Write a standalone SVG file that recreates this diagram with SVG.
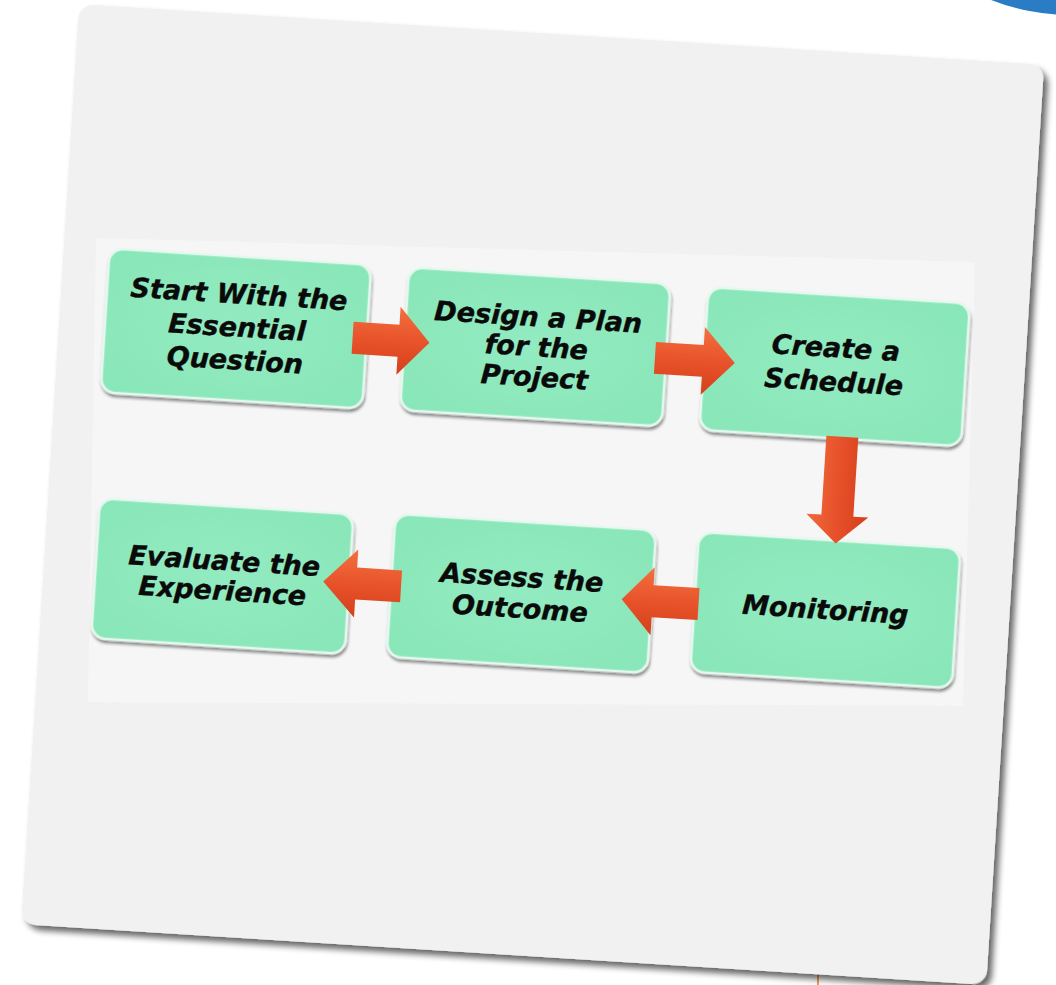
<svg xmlns="http://www.w3.org/2000/svg" width="1056" height="985" viewBox="0 0 1056 985">
  <defs>
    <filter id="cardShadow" x="-5%" y="-5%" width="112%" height="112%">
      <feGaussianBlur in="SourceAlpha" stdDeviation="3"/>
      <feOffset dx="5" dy="5" result="b"/>
      <feComponentTransfer><feFuncA type="linear" slope="0.6"/></feComponentTransfer>
      <feMerge><feMergeNode/><feMergeNode in="SourceGraphic"/></feMerge>
    </filter>
    <filter id="boxShadow" x="-5%" y="-5%" width="110%" height="115%">
      <feGaussianBlur in="SourceAlpha" stdDeviation="1.5"/>
      <feOffset dx="1" dy="3" result="b"/>
      <feComponentTransfer><feFuncA type="linear" slope="0.45"/></feComponentTransfer>
      <feMerge><feMergeNode/><feMergeNode in="SourceGraphic"/></feMerge>
    </filter>
    <linearGradient id="arrH" x1="0" y1="0" x2="0" y2="1">
      <stop offset="0" stop-color="#f4703f"/>
      <stop offset="0.5" stop-color="#e8532b"/>
      <stop offset="1" stop-color="#d4401b"/>
    </linearGradient>
    <linearGradient id="arrV" x1="0" y1="0" x2="1" y2="0">
      <stop offset="0" stop-color="#f06a3a"/>
      <stop offset="0.5" stop-color="#e6502a"/>
      <stop offset="1" stop-color="#d4401b"/>
    </linearGradient>
    <radialGradient id="boxFill" cx="0.5" cy="0.5" r="0.7">
      <stop offset="0" stop-color="#93ebc1"/>
      <stop offset="1" stop-color="#88e6b8"/>
    </radialGradient>
  </defs>
  <style>
    .box { fill: url(#boxFill); stroke: #e4f8ee; stroke-width: 2.5; filter: url(#boxShadow); }
    .lbl { font-family: "DejaVu Sans", Verdana, sans-serif; font-weight: bold; font-style: italic; font-size: 27px; fill: #0a0a0a; stroke: #0a0a0a; stroke-width: 0.4; text-anchor: middle; }
    .arrH { fill: url(#arrH); }
    .arrV { fill: url(#arrV); }
  </style>

  <!-- blue badge fragment top right -->
  <circle cx="1070" cy="-200" r="215" fill="#2a7cc5"/>

  <!-- small orange mark bottom -->
  <line x1="818" y1="974" x2="818" y2="985" stroke="#f07b20" stroke-width="1.5"/>

  <g id="card">
    <rect x="0" y="0" width="967" height="922" rx="15" fill="#f1f1f1" filter="url(#cardShadow)" transform="translate(79,4) rotate(3.6)"/>
    <polygon points="96,238 975,262 963,706 88,702" fill="#f6f6f6"/>
  </g>

  <g transform="translate(79,4) rotate(3.6)">
    <g id="node-start">
      <rect class="box" x="46" y="242" width="262" height="144" rx="14"/>
      <text class="lbl" x="178" y="289">Start With the</text>
      <text class="lbl" x="178" y="322">Essential</text>
      <text class="lbl" x="178" y="355">Question</text>
    </g>
    <g id="node-design">
      <rect class="box" x="346" y="242" width="262" height="143" rx="14"/>
      <text class="lbl" x="478" y="293">Design a Plan</text>
      <text class="lbl" x="478" y="323">for the</text>
      <text class="lbl" x="478" y="353">Project</text>
    </g>
    <g id="node-schedule">
      <rect class="box" x="646" y="243" width="262" height="143" rx="14"/>
      <text class="lbl" x="777" y="305">Create a</text>
      <text class="lbl" x="777" y="339">Schedule</text>
    </g>
    <g id="node-monitoring">
      <rect class="box" x="652" y="488" width="262" height="140" rx="14"/>
      <text class="lbl" x="783" y="567">Monitoring</text>
    </g>
    <g id="node-assess">
      <rect class="box" x="348" y="489" width="261" height="143" rx="14"/>
      <text class="lbl" x="478" y="554">Assess the</text>
      <text class="lbl" x="478" y="585">Outcome</text>
    </g>
    <g id="node-evaluate">
      <rect class="box" x="52" y="492" width="254" height="140" rx="14"/>
      <text class="lbl" x="180" y="556">Evaluate the</text>
      <text class="lbl" x="180" y="586">Experience</text>
    </g>

    <g id="connectors">
      <!-- start -> design -->
      <path class="arrH" d="M294,300 H340 V282 L371,316 L340,350 V332 H294 Z"/>
      <!-- design -> schedule -->
      <path class="arrH" d="M597,301 H645 V283 L677,317 L645,351 V333 H597 Z"/>
      <!-- schedule -> monitoring -->
      <path class="arrV" d="M773,384 H805 V463 H820 L789,491 L758,463 H773 Z"/>
      <!-- monitoring -> assess -->
      <path class="arrH" d="M656,544 H610 V526 L579,560 L610,594 V576 H656 Z"/>
      <!-- assess -> evaluate -->
      <path class="arrH" d="M358,545 H313 V527 L280,561 L313,595 V577 H358 Z"/>
    </g>
  </g>
</svg>
